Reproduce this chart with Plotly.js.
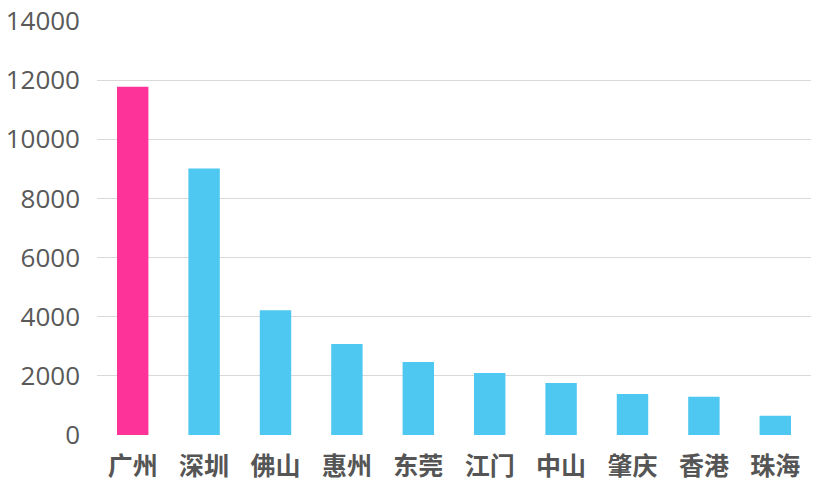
<!DOCTYPE html>
<html>
<head>
<meta charset="utf-8">
<script src="https://cdn.plot.ly/plotly-3.0.1.min.js"></script>
<style>
  html, body { margin: 0; padding: 0; background: #fff; }
  #chart { width: 821px; height: 487px; }
</style>
</head>
<body>
<div id="chart"></div>
<script>
// cities and values
const cities = ['广州', '深圳', '佛山', '惠州', '东莞', '江门', '中山', '肇庆', '香港', '珠海'];
const values = [11780, 9010, 4220, 3080, 2470, 2100, 1760, 1390, 1290, 650];
const yTicks = [0, 2000, 4000, 6000, 8000, 10000, 12000, 14000];

const pink = '#fd3399';
const blue = '#4ec8f1';
const barColors = cities.map((c, i) => i === 0 ? pink : blue);

const bars = {
    type: 'bar',
    x: cities,
    y: values,
    marker: { color: barColors },
    hoverinfo: 'none'
};

const layout = {
    width: 821,
    height: 487,
    margin: { l: 97, r: 10, t: 21, b: 52 },
    paper_bgcolor: '#fff',
    plot_bgcolor: '#fff',
    showlegend: false,
    bargap: 0.56,
    xaxis: {
        type: 'category',
        showgrid: false,
        showline: false,
        zeroline: false,
        ticks: '',
        tickfont: { family: 'Noto Sans CJK SC', size: 25, color: '#555', weight: 'bold' },
        ticklabelstandoff: 14
    },
    yaxis: {
        range: [0, 14000],
        tickvals: yTicks,
        ticktext: yTicks.map(String),
        showgrid: true,
        gridcolor: '#d9d9d9',
        gridwidth: 1,
        zeroline: false,
        showline: false,
        ticks: '',
        ticklabelstandoff: 16,
        tickfont: { family: 'Open Sans', size: 26, color: '#595959' }
    }
};

Plotly.newPlot('chart', [bars], layout, { staticPlot: true });
</script>
</body>
</html>
